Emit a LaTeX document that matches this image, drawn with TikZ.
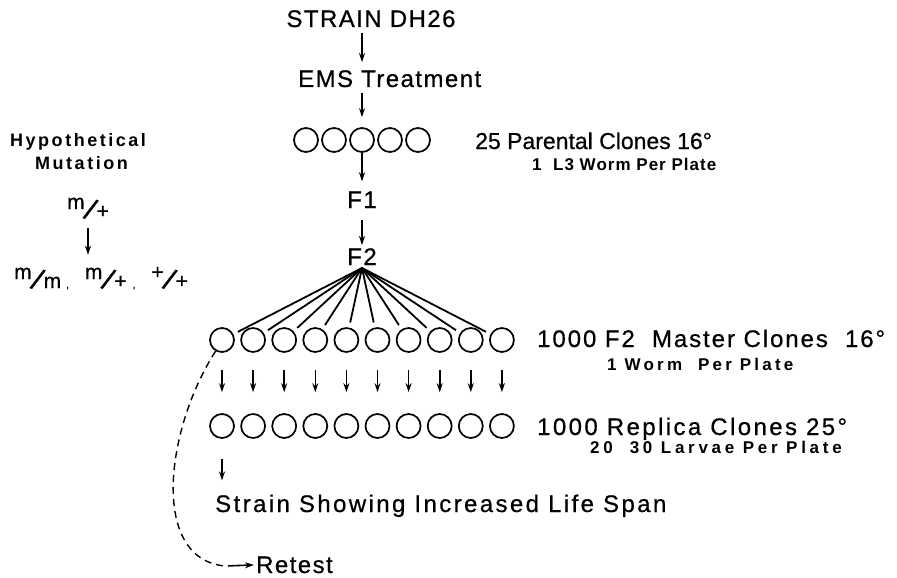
\documentclass[tikz,border=0pt]{standalone}
\usepackage{graphicx}
\usepackage{fontspec}
\setmainfont{Liberation Sans}
\newfontfamily\headfont[FakeBold=0.6]{Liberation Sans}
\newfontfamily\subfont{Liberation Sans}
\usetikzlibrary{positioning,arrows.meta}

\tikzset{
  clone/.style={circle, draw, line width=1.7pt, minimum size=24pt, inner sep=0pt},
  lbl/.style={inner sep=0pt, anchor=base west},
  headtxt/.style={font=\headfont\fontsize{24}{28}\selectfont\addfontfeature{LetterSpace=#1}},
  headtxt/.default=6,
  subtxt/.style={font=\subfont\bfseries\fontsize{17}{20}\selectfont\addfontfeature{LetterSpace=#1}},
  subtxt/.default=12,
  sidetxt/.style={font=\subfont\bfseries\fontsize{18}{20}\selectfont\addfontfeature{LetterSpace=14}},
  dn/.style={-{Stealth[length=9pt,width=6pt]}, line width=1.6pt},
  fan/.style={line width=1.8pt, shorten >=5pt},
}
% genotype: raised allele, slanted bar, lowered allele
\newcommand{\geno}[2]{\raisebox{9pt}{\fontsize{21}{21}\selectfont #1}\kern-2pt\raisebox{-2pt}{\rotatebox[origin=c]{-22}{\fontsize{30}{30}\selectfont/}}\kern-2pt{\fontsize{21}{21}\selectfont #2}}

\begin{document}
\begin{tikzpicture}[x=1pt, y=-1pt]
    \useasboundingbox (0,0) rectangle (897,578);

    % Main column
    \node[lbl, headtxt, anchor=base] (strain) at (371,27) {STRAIN DH26};
    \node[lbl, headtxt] (ems) at (298,87) {EMS Treatment};
    \foreach \i in {1,...,5}
        \node[clone] (p\i) at ({306+28*(\i-1)},140) {};
    \node[lbl, headtxt=0, font=\headfont\fontsize{23}{28}\selectfont] (parlbl) at (475,149) {25 Parental Clones 16°};
    \node[lbl, subtxt=6] (parsub) at (532,170) {1\ \ L3 Worm Per Plate};
    \node[lbl, headtxt, anchor=base] (f1) at (362,208) {F1};
    \node[lbl, headtxt, anchor=base] (f2) at (362,265) {F2};
    \coordinate (apex) at (362,268);

    \draw[dn, shorten <=6pt, shorten >=8pt] (strain.south -| p3) -- (ems.north -| p3);
    \draw[dn, shorten <=6pt, shorten >=10pt] (ems.south -| p3) -- (p3.north);
    \draw[dn, shorten >=10pt] (p3.south) -- (f1.north);
    \draw[dn, shorten <=12pt, shorten >=3pt] (f1.south) -- (f2.north);

    % Master and replica rows
    \foreach \i [evaluate=\i as \x using 222+31.1*(\i-1)] in {1,...,10} {
        \node[clone] (m\i) at (\x,340) {};
        \node[clone] (r\i) at (\x,426) {};
        \draw[fan] (apex) -- (m\i);
        \draw[dn, shorten <=17pt, shorten >=21pt] (m\i) -- (r\i);
    }
    \node[lbl, headtxt=8] (maslbl) at (537,347) {1000 F2\ \ Master Clones\ \ 16°};
    \node[lbl, subtxt=19] (massub) at (607,370) {1 Worm\ \ Per Plate};
    \node[lbl, headtxt=10] (replbl) at (537,435) {1000 Replica Clones 25°};
    \node[lbl, subtxt=22] (repsub) at (590,453) {20\ \ 30 Larvae Per Plate};

    % Outcome
    \node[lbl, headtxt=10] (lifespan) at (215,512) {Strain Showing Increased Life Span};
    \node[lbl, headtxt] (retest) at (256,573) {Retest};
    \coordinate (rt) at (225,566);
    \draw[dn, shorten <=20pt, shorten >=14pt] (r1) -- (r1 |- lifespan.north);
    \draw[line width=1.4pt, dash pattern=on 7pt off 5pt]
        (m1.240) .. controls (165,430) and (150,559) .. (rt);
    \draw[dn, shorten <=3pt, shorten >=2pt] (rt) -- (retest.west);

    % Hypothetical mutation
    \node[lbl, sidetxt] (hyp) at (10,146) {Hypothetical};
    \node[lbl, sidetxt] (mut) at (35,169) {Mutation};
    \node[lbl, font=\headfont] (mp) at (67,218) {\geno{m}{+}};
    \node[lbl, font=\headfont] (mall) at (14,288) {\geno{m}{m}\kern5pt,\hspace{16pt}\geno{m}{+}\kern6pt,\hspace{16pt}\geno{+}{+}};
    \coordinate (mx) at (88,0);
    \draw[dn, shorten <=7pt, shorten >=12pt] (mx |- mp.south) -- (mx |- mall.north);
\end{tikzpicture}
\end{document}
